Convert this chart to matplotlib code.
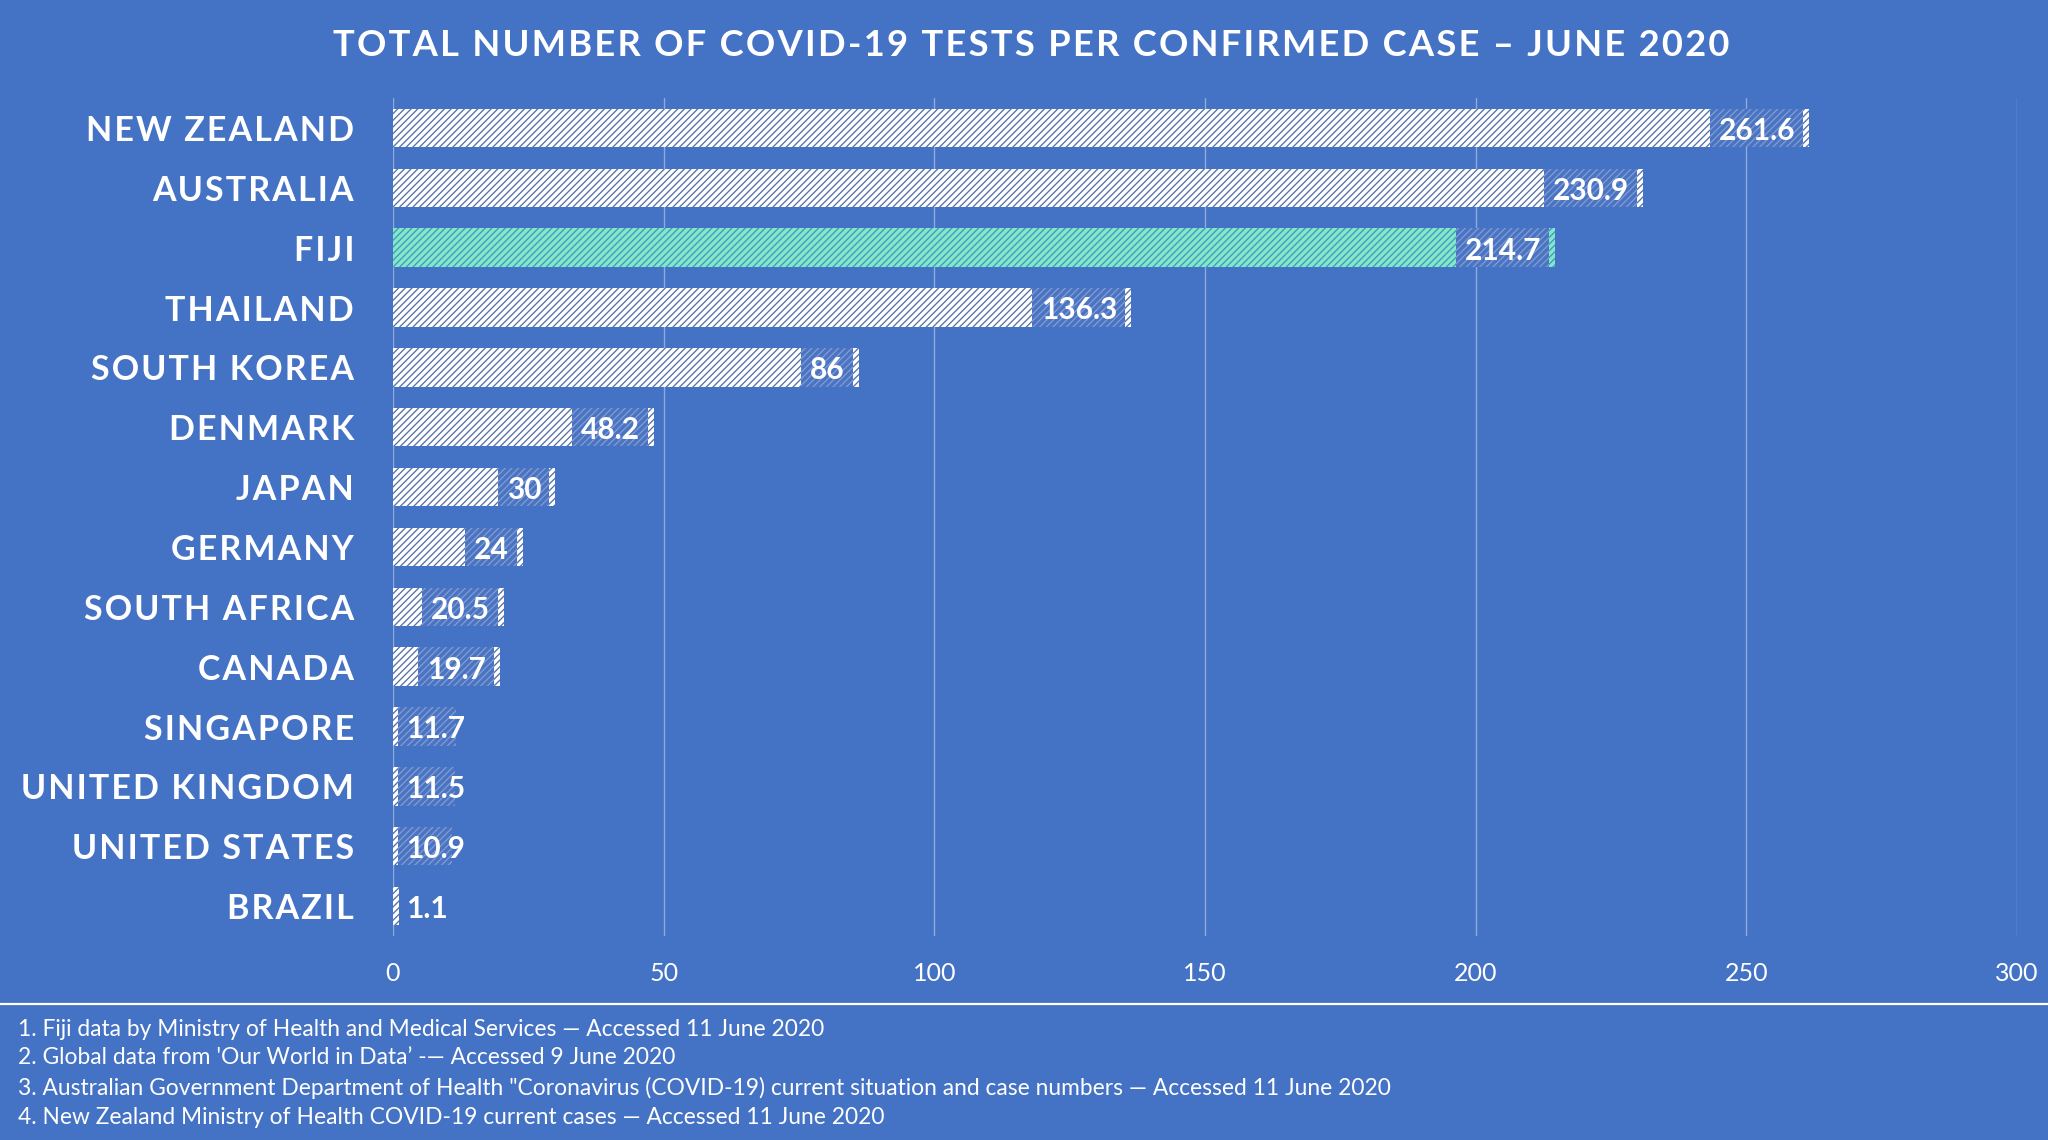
import matplotlib
matplotlib.use("Agg")
import matplotlib.pyplot as plt
import numpy as np
from matplotlib.patches import Rectangle

# ---------------- data ----------------
countries = ['NEW ZEALAND', 'AUSTRALIA', 'FIJI', 'THAILAND', 'SOUTH KOREA', 'DENMARK',
             'JAPAN', 'GERMANY', 'SOUTH AFRICA', 'CANADA', 'SINGAPORE',
             'UNITED KINGDOM', 'UNITED STATES', 'BRAZIL']
values = [261.6, 230.9, 214.7, 136.3, 86, 48.2, 30, 24, 20.5, 19.7, 11.7, 11.5, 10.9, 1.1]
highlight = ['FIJI']
x_ticks = [0, 50, 100, 150, 200, 250, 300]
title = 'TOTAL NUMBER OF COVID-19 TESTS PER CONFIRMED CASE \u2013 JUNE 2020'
footnotes = [
    "1. Fiji data by Ministry of Health and Medical Services \u2014 Accessed 11 June 2020",
    "2. Global data from 'Our World in Data\u2019 -\u2014 Accessed 9 June 2020",
    "3. Australian Government Department of Health \"Coronavirus (COVID-19) current situation and case numbers \u2014 Accessed 11 June 2020",
    "4. New Zealand Ministry of Health COVID-19 current cases \u2014 Accessed 11 June 2020",
]

# ---------------- style ----------------
BG = '#4472C4'
GRID = '#8FAADC'
BAR_FACE = '#FFFFFF'
BAR_HATCH = '#5670A8'
FIJI_FACE = '#86E6C8'
FIJI_HATCH = '#3C9CC0'
BOX_FACE = '#4A74C2'
BOX_HATCH = '#7E9BD4'
FAM = ['Lato', 'DejaVu Sans']

plt.rcParams['font.family'] = FAM
plt.rcParams['hatch.linewidth'] = 0.95

W, H, DPI = 2048, 1140, 100
fig = plt.figure(figsize=(W / DPI, H / DPI), dpi=DPI, facecolor=BG)
ax = fig.add_axes([393 / W, 1 - 936 / H, 1624 / W, 838 / H])
ax.set_facecolor(BG)

def spaced(s, sep='\u200a'):
    return sep.join(list(s))

n = len(countries)
y = np.arange(n)
bar_h = 0.64
for i, (c, v) in enumerate(zip(countries, values)):
    if c in highlight:
        fc, hc = FIJI_FACE, FIJI_HATCH
    else:
        fc, hc = BAR_FACE, BAR_HATCH
    ax.barh(y[i], v, height=bar_h, color=fc, edgecolor=hc, linewidth=0,
            hatch='/////', zorder=2)

ax.set_xlim(x_ticks[0], x_ticks[-1])
ax.set_ylim(n - 0.5, -0.5)
ax.set_xticks(x_ticks)
ax.set_xticklabels([str(t) for t in x_ticks], fontsize=18, color='white')
ax.set_yticks(y)
ax.set_yticklabels([spaced(c) for c in countries], fontsize=24.5, fontweight='bold',
                   color='white')
ax.tick_params(axis='both', length=0)
ax.tick_params(axis='y', pad=28)
ax.tick_params(axis='x', pad=19)
for s in ax.spines.values():
    s.set_visible(False)
ax.grid(axis='x', color=GRID, linewidth=1.0, zorder=0)
ax.set_axisbelow(True)

fig.text(1031 / W, 1 - 45 / H, spaced(title), ha='center', va='center',
         fontsize=26.2, fontweight='bold', color='white')

# separator line
fig.add_artist(plt.Line2D([0, 1], [1 - 1004 / H, 1 - 1004 / H], transform=fig.transFigure,
                          color='white', linewidth=1.6))

foot_y = [1029, 1058, 1088, 1118]
for t, yy in zip(footnotes, foot_y):
    fig.text(18 / W, 1 - yy / H, t, ha='left', va='center', fontsize=16.4, color='white')

# ---------------- value labels with hatched boxes ----------------
fig.canvas.draw()
renderer = fig.canvas.get_renderer()
inv = ax.transData.inverted()
x0_px = ax.transData.transform((0, 0))[0]
for i, v in enumerate(values):
    lab = f'{v:g}'
    t = ax.text(0, y[i] + 0.05, lab, ha='left', va='center', fontsize=21.5, fontweight='bold',
                color='white', zorder=5)
    ext = t.get_window_extent(renderer)
    tw = ext.width
    end_px = ax.transData.transform((v, y[i]))[0]
    tl = max(end_px - 14 - tw, x0_px + 13)
    tr = tl + tw
    t.set_x(inv.transform((tl, 0))[0])
    bl = max(tl - 9, x0_px + 5)
    br = min(tr + 8, end_px - 4) if end_px - 4 > tr else end_px
    if br - bl > 1:
        xl = inv.transform((bl, 0))[0]
        xr = inv.transform((br, 0))[0]
        ax.add_patch(Rectangle((xl, y[i] - bar_h / 2), xr - xl, bar_h, facecolor=BOX_FACE,
                               edgecolor=BOX_HATCH, linewidth=0, hatch='/////', zorder=3))

fig.savefig('out.png', dpi=DPI, facecolor=BG)
